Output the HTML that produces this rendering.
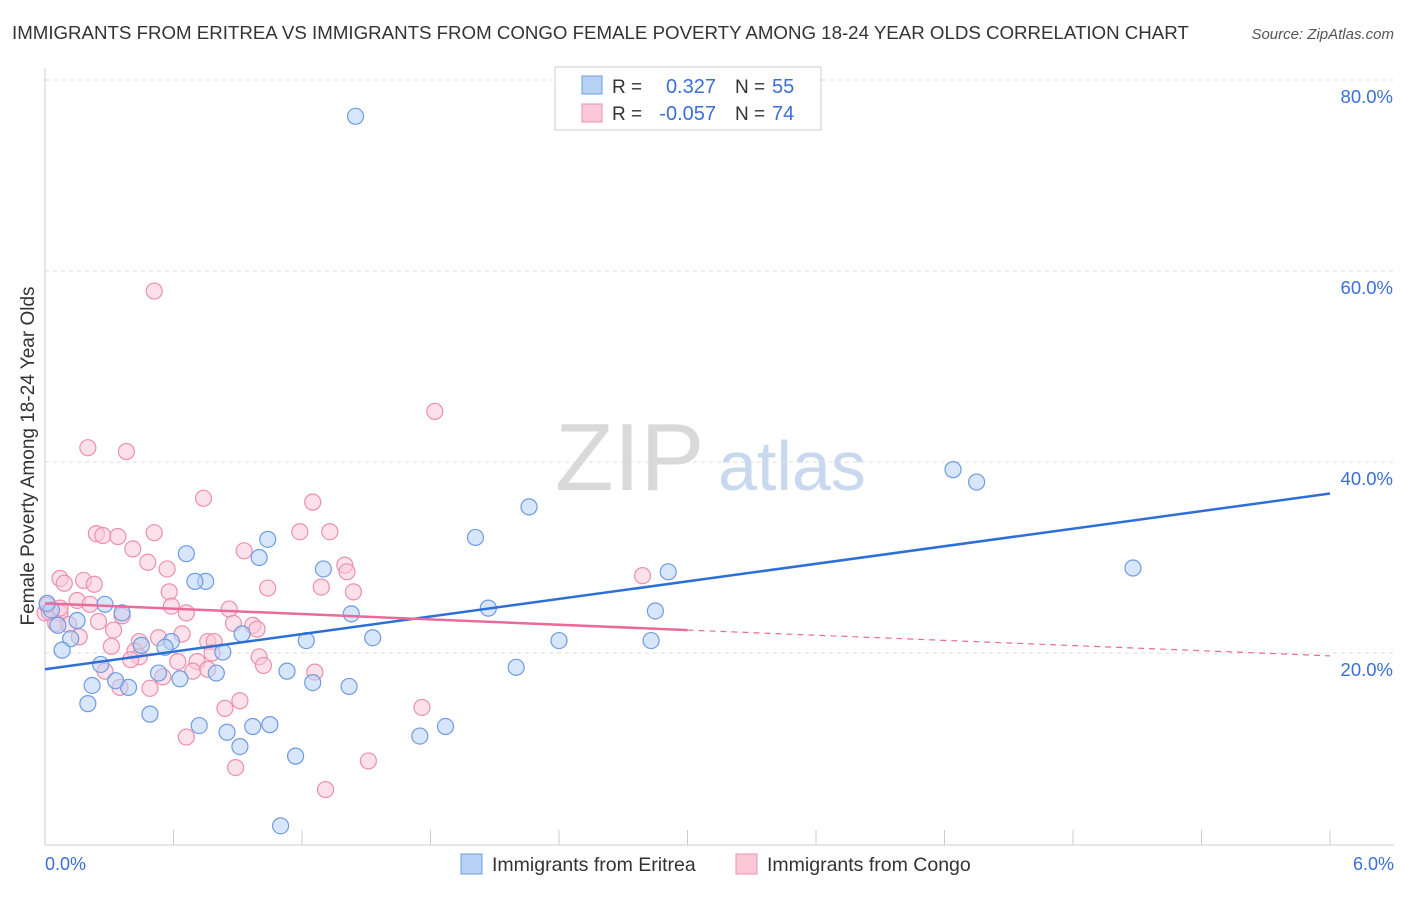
<!DOCTYPE html>
<html><head><meta charset="utf-8"><style>
body{margin:0;background:#fff;font-family:"Liberation Sans",sans-serif;}
svg text{font-family:"Liberation Sans",sans-serif;}
</style></head><body>
<svg id="chart" width="1406" height="892">
<text x="12" y="39" font-size="18.7" fill="#333">IMMIGRANTS FROM ERITREA VS IMMIGRANTS FROM CONGO FEMALE POVERTY AMONG 18-24 YEAR OLDS CORRELATION CHART</text>
<text x="1394" y="39" font-size="15" fill="#555" text-anchor="end" font-style="italic">Source: ZipAtlas.com</text>
<text x="34" y="456" font-size="19" fill="#333" text-anchor="middle" transform="rotate(-90 34 456)">Female Poverty Among 18-24 Year Olds</text>
<text x="555" y="490" font-size="96" fill="#d9d9d9" font-family="Liberation Serif">ZIP</text>
<text x="718" y="490" font-size="70" fill="#c8d8ee">atlas</text>
<g id="grid"></g><g id="axes"></g><g id="pts"></g><g id="lines"></g>
<g>
<rect x="555" y="67" width="266" height="63" fill="#fff" stroke="#ccc"/>
<rect x="582" y="76" width="20" height="18" fill="#b7d2f5" stroke="#6f9be0"/>
<rect x="582" y="104" width="20" height="18" fill="#fbc8d8" stroke="#ec8fae"/>
<text x="612" y="93" font-size="19" fill="#333">R =</text>
<text x="716" y="93" font-size="20" fill="#3a6fd8" text-anchor="end">0.327</text>
<text x="735" y="93" font-size="19" fill="#333">N =</text>
<text x="772" y="93" font-size="20" fill="#3a6fd8">55</text>
<text x="612" y="120" font-size="19" fill="#333">R =</text>
<text x="716" y="120" font-size="20" fill="#3a6fd8" text-anchor="end">-0.057</text>
<text x="735" y="120" font-size="19" fill="#333">N =</text>
<text x="772" y="120" font-size="20" fill="#3a6fd8">74</text>
</g>
<g>
<rect x="461" y="854" width="21" height="20" fill="#b7d2f5" stroke="#6f9be0"/>
<text x="492" y="871" font-size="19.5" fill="#333">Immigrants from Eritrea</text>
<rect x="736" y="854" width="21" height="20" fill="#fbc8d8" stroke="#ec8fae"/>
<text x="767" y="871" font-size="19.5" fill="#333">Immigrants from Congo</text>
</g>
<text x="45" y="870" font-size="18" fill="#3a6fd8">0.0%</text>
<text x="1394" y="870" font-size="18" fill="#3a6fd8" text-anchor="end">6.0%</text>
</svg>
<script>
const yTicks=[20,40,60,80];
const xTicks=[0,0.6,1.2,1.8,2.4,3.0,3.6,4.2,4.8,5.4,6.0];
const eritreaX=[1.45,4.24,4.35,5.08,2.26,2.01,2.91,2.85,2.07,2.4,2.83,2.2,1.75,1.87,1.53,1.43,1.42,1.3,1.25,1.22,1.17,1.1,1.13,1.05,1.04,1.0,0.97,0.92,0.91,0.85,0.83,0.8,0.72,0.75,0.7,0.66,0.63,0.59,0.56,0.53,0.49,0.45,0.39,0.36,0.33,0.28,0.26,0.22,0.2,0.15,0.12,0.08,0.06,0.03,0.01];
const eritreaY=[76.2,39.2,37.9,28.9,35.3,32.1,28.5,24.4,24.7,21.3,21.3,18.5,11.3,12.3,21.6,24.1,16.5,28.8,16.9,21.3,9.2,1.9,18.1,12.5,31.9,30.0,12.3,22.0,10.2,11.7,20.1,17.9,12.4,27.5,27.5,30.4,17.3,21.2,20.6,17.9,13.6,20.8,16.4,24.2,17.1,25.1,18.8,16.6,14.7,23.4,21.5,20.3,22.9,24.5,25.2];
const congoX=[0.51,1.82,0.2,0.38,0.74,1.25,1.33,1.19,0.51,0.24,0.27,0.34,0.41,0.93,0.48,1.4,1.41,0.57,0.07,0.09,0.18,0.23,1.04,1.29,1.44,2.79,0.58,0.15,0.21,0.59,0.66,0.86,0.25,0.36,0.88,0.97,0.99,0.07,0,0.05,0.11,0.16,0.32,0.44,0.53,0.64,0.76,0.79,0.31,0.42,0.78,0.44,0.4,0.62,0.71,1.0,1.02,1.26,0.28,0.69,0.76,0.55,0.35,0.49,0.91,0.84,1.76,0.66,1.51,0.89,1.31,0.01,0.02,0.07];
const congoY=[57.9,45.3,41.5,41.1,36.2,35.8,32.7,32.7,32.6,32.5,32.3,32.2,30.9,30.7,29.5,29.2,28.5,28.8,27.8,27.3,27.6,27.2,26.8,26.9,26.4,28.1,26.4,25.5,25.1,24.9,24.2,24.6,23.3,23.9,23.1,22.9,22.5,24.2,24.2,23.1,23.0,21.7,22.4,21.2,21.6,22.0,21.2,21.2,20.7,20.2,20.0,19.6,19.3,19.1,19.1,19.6,18.7,18.0,18.1,18.1,18.3,17.5,16.4,16.3,15.0,14.2,14.3,11.2,8.7,8.0,5.7,25.0,24.3,24.7];
const NS="http://www.w3.org/2000/svg";
const X=v=>45+v/6*1285, Y=v=>844-v/20*191;
function mk(t,a,p){const e=document.createElementNS(NS,t);for(const k in a)e.setAttribute(k,a[k]);p.appendChild(e);return e;}
const g=document.getElementById('grid'),ax=document.getElementById('axes');
yTicks.forEach(t=>{
 const l=mk('line',{x1:45,x2:1394,y1:Y(t),y2:Y(t),stroke:'#ddd','stroke-dasharray':'4,4'},g);
 
 
 const tx=mk('text',{x:1393,y:Y(t)+23,'font-size':18.5,fill:'#3a6fd8','text-anchor':'end'},ax);
 tx.textContent=t.toFixed(1)+'%';
 
 
});
mk('line',{x1:45,x2:45,y1:68,y2:845,stroke:'#ccc'},ax);
mk('line',{x1:45,x2:1394,y1:845,y2:845,stroke:'#ccc'},ax);
xTicks.forEach(t=>{const l=mk('line',{x1:X(t),x2:X(t),y1:830,y2:845,stroke:'#ccc'},ax);
 
 });
const p=document.getElementById('pts');
function dots(xs,ys,fill,stroke,name){xs.forEach((x,i)=>{const c=mk('circle',{cx:X(x),cy:Y(ys[i]),r:8,fill:fill,'fill-opacity':0.55,stroke:stroke,'stroke-width':1.2},p);
 
 });}
dots(congoX,congoY,'#fbc8d8','#ec8fae','congo-point');
dots(eritreaX,eritreaY,'#b7d2f5','#6f9be0','eritrea-point');
const L=document.getElementById('lines');
const bl=mk('line',{x1:X(0),y1:Y(18.3),x2:X(6),y2:Y(36.7),stroke:'#2d6fd6','stroke-width':2.5},L);


const pl=mk('line',{x1:X(0),y1:Y(25.2),x2:X(3),y2:Y(22.4),stroke:'#e86b9a','stroke-width':2.5},L);


const pd=mk('line',{x1:X(3),y1:Y(22.4),x2:X(6),y2:Y(19.7),stroke:'#e86b9a','stroke-width':1.2,'stroke-dasharray':'6,5'},L);


</script>
</body></html>
